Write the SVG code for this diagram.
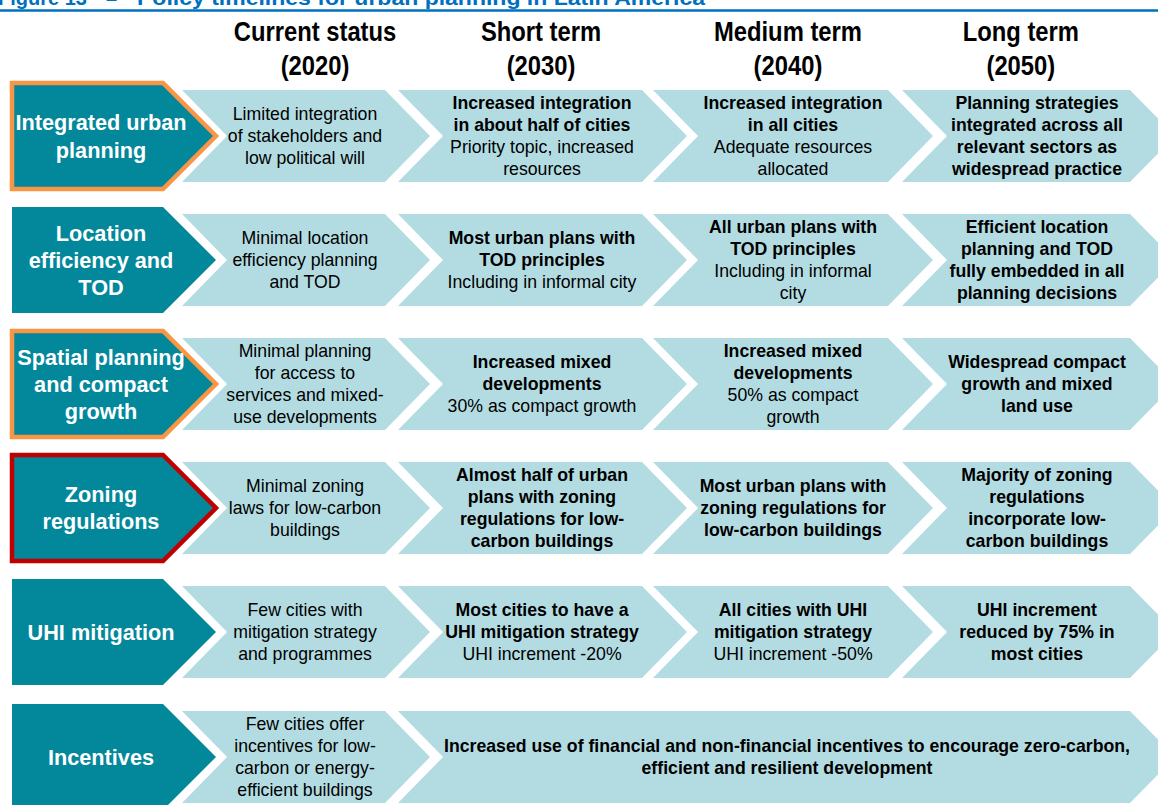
<svg xmlns="http://www.w3.org/2000/svg" width="1158" height="805" viewBox="0 0 1158 805">
<style>
.bg{fill:#ffffff}
.dark{fill:#03879B}
.halo{fill:none;stroke:#ffffff;stroke-width:9;stroke-linejoin:miter}
.orange{fill:#03879B;stroke:#F79646;stroke-width:4.5;stroke-linejoin:miter}
.red{fill:#03879B;stroke:#C00000;stroke-width:4.5;stroke-linejoin:miter}
.light{fill:#B3DCE2}
text{font-family:"Liberation Sans",Arial,sans-serif;text-anchor:middle}
.lab{fill:#ffffff;font-weight:bold;font-size:21.7px}
.t{fill:#000000;font-size:17.7px}
.tb{fill:#000000;font-size:17.7px;font-weight:bold}
.hd{fill:#000000;font-size:28px;font-weight:bold}
.title{fill:#0070C0;font-size:20px;font-weight:bold;text-anchor:start}
</style>
<defs>
<polygon id="pent" points="12,-53 163,-53 216,0 163,53 12,53"/>
<polygon id="ch1" points="182,-46 385,-46 430,0 385,46 182,46 227,0"/>
<polygon id="ch2" points="398,-46 642,-46 687,0 642,46 398,46 443,0"/>
<polygon id="ch3" points="653,-46 888,-46 933,0 888,46 653,46 698,0"/>
<polygon id="ch4" points="902,-46 1130,-46 1175,0 1130,46 902,46 947,0"/>
<polygon id="chL" points="398,-46 1130,-46 1175,0 1130,46 398,46 443,0"/>
</defs>
<rect class="bg" x="0" y="0" width="1158" height="805"/>

<g id="title">
<text class="title" x="-2" y="5">Figure 13</text>
<text class="title" x="106" y="5">–</text>
<text class="title" x="137" y="5" textLength="568" lengthAdjust="spacingAndGlyphs">Policy timelines for urban planning in Latin America</text>
<line x1="0" y1="10.5" x2="1158" y2="10.5" stroke="#0070C0" stroke-width="2.5"/>
</g>

<g id="headers">
<g id="h-current"><text class="hd" transform="scale(0.85 1)"><tspan x="370.6" y="41">Current status</tspan><tspan x="370.6" y="75">(2020)</tspan></text></g>
<g id="h-short"><text class="hd" transform="scale(0.85 1)"><tspan x="636.5" y="41">Short term</tspan><tspan x="636.5" y="75">(2030)</tspan></text></g>
<g id="h-medium"><text class="hd" transform="scale(0.85 1)"><tspan x="927" y="41">Medium term</tspan><tspan x="927" y="75">(2040)</tspan></text></g>
<g id="h-long"><text class="hd" transform="scale(0.85 1)"><tspan x="1201" y="41">Long term</tspan><tspan x="1201" y="75">(2050)</tspan></text></g>
</g>

<!-- Row 1 c=136 -->
<g id="row1" transform="translate(0 136)">
<g id="r1c4"><use href="#ch4" class="light"/><text class="tb"><tspan x="1037" y="-27">Planning strategies</tspan><tspan x="1037" y="-5">integrated across all</tspan><tspan x="1037" y="17">relevant sectors as</tspan><tspan x="1037" y="39">widespread practice</tspan></text></g>
<g id="r1c3"><use href="#ch3" class="light"/><text class="tb"><tspan x="793" y="-27">Increased integration</tspan><tspan x="793" y="-5">in all cities</tspan></text><text class="t"><tspan x="793" y="17">Adequate resources</tspan><tspan x="793" y="39">allocated</tspan></text></g>
<g id="r1c2"><use href="#ch2" class="light"/><text class="tb"><tspan x="542" y="-27">Increased integration</tspan><tspan x="542" y="-5">in about half of cities</tspan></text><text class="t"><tspan x="542" y="17">Priority topic, increased</tspan><tspan x="542" y="39">resources</tspan></text></g>
<g id="r1c1"><use href="#ch1" class="light"/><text class="t"><tspan x="305" y="-16">Limited integration</tspan><tspan x="305" y="6">of stakeholders and</tspan><tspan x="305" y="28">low political will</tspan></text></g>
<g id="r1label"><use href="#pent" class="halo"/><use href="#pent" class="orange"/><text class="lab"><tspan x="101" y="-6">Integrated urban</tspan><tspan x="101" y="22">planning</tspan></text></g>
</g>

<!-- Row 2 c=260 -->
<g id="row2" transform="translate(0 260)">
<g id="r2c4"><use href="#ch4" class="light"/><text class="tb"><tspan x="1037" y="-27">Efficient location</tspan><tspan x="1037" y="-5">planning and TOD</tspan><tspan x="1037" y="17">fully embedded in all</tspan><tspan x="1037" y="39">planning decisions</tspan></text></g>
<g id="r2c3"><use href="#ch3" class="light"/><text class="tb"><tspan x="793" y="-27">All urban plans with</tspan><tspan x="793" y="-5">TOD principles</tspan></text><text class="t"><tspan x="793" y="17">Including in informal</tspan><tspan x="793" y="39">city</tspan></text></g>
<g id="r2c2"><use href="#ch2" class="light"/><text class="tb"><tspan x="542" y="-16">Most urban plans with</tspan><tspan x="542" y="6">TOD principles</tspan></text><text class="t"><tspan x="542" y="28">Including in informal city</tspan></text></g>
<g id="r2c1"><use href="#ch1" class="light"/><text class="t"><tspan x="305" y="-16">Minimal location</tspan><tspan x="305" y="6">efficiency planning</tspan><tspan x="305" y="28">and TOD</tspan></text></g>
<g id="r2label"><use href="#pent" class="halo"/><use href="#pent" class="dark"/><text class="lab"><tspan x="101" y="-19">Location</tspan><tspan x="101" y="8">efficiency and</tspan><tspan x="101" y="35">TOD</tspan></text></g>
</g>

<!-- Row 3 c=384 -->
<g id="row3" transform="translate(0 384)">
<g id="r3c4"><use href="#ch4" class="light"/><text class="tb"><tspan x="1037" y="-16">Widespread compact</tspan><tspan x="1037" y="6">growth and mixed</tspan><tspan x="1037" y="28">land use</tspan></text></g>
<g id="r3c3"><use href="#ch3" class="light"/><text class="tb"><tspan x="793" y="-27">Increased mixed</tspan><tspan x="793" y="-5">developments</tspan></text><text class="t"><tspan x="793" y="17">50% as compact</tspan><tspan x="793" y="39">growth</tspan></text></g>
<g id="r3c2"><use href="#ch2" class="light"/><text class="tb"><tspan x="542" y="-16">Increased mixed</tspan><tspan x="542" y="6">developments</tspan></text><text class="t"><tspan x="542" y="28">30% as compact growth</tspan></text></g>
<g id="r3c1"><use href="#ch1" class="light"/><text class="t"><tspan x="305" y="-27">Minimal planning</tspan><tspan x="305" y="-5">for access to</tspan><tspan x="305" y="17">services and mixed-</tspan><tspan x="305" y="39">use developments</tspan></text></g>
<g id="r3label"><use href="#pent" class="halo"/><use href="#pent" class="orange"/><text class="lab"><tspan x="101" y="-19">Spatial planning</tspan><tspan x="101" y="8">and compact</tspan><tspan x="101" y="35">growth</tspan></text></g>
</g>

<!-- Row 4 c=508 -->
<g id="row4" transform="translate(0 508)">
<g id="r4c4"><use href="#ch4" class="light"/><text class="tb"><tspan x="1037" y="-27">Majority of zoning</tspan><tspan x="1037" y="-5">regulations</tspan><tspan x="1037" y="17">incorporate low-</tspan><tspan x="1037" y="39">carbon buildings</tspan></text></g>
<g id="r4c3"><use href="#ch3" class="light"/><text class="tb"><tspan x="793" y="-16">Most urban plans with</tspan><tspan x="793" y="6">zoning regulations for</tspan><tspan x="793" y="28">low-carbon buildings</tspan></text></g>
<g id="r4c2"><use href="#ch2" class="light"/><text class="tb"><tspan x="542" y="-27">Almost half of urban</tspan><tspan x="542" y="-5">plans with zoning</tspan><tspan x="542" y="17">regulations for low-</tspan><tspan x="542" y="39">carbon buildings</tspan></text></g>
<g id="r4c1"><use href="#ch1" class="light"/><text class="t"><tspan x="305" y="-16">Minimal zoning</tspan><tspan x="305" y="6">laws for low-carbon</tspan><tspan x="305" y="28">buildings</tspan></text></g>
<g id="r4label"><use href="#pent" class="halo"/><use href="#pent" class="red"/><text class="lab"><tspan x="101" y="-6">Zoning</tspan><tspan x="101" y="21">regulations</tspan></text></g>
</g>

<!-- Row 5 c=632 -->
<g id="row5" transform="translate(0 632)">
<g id="r5c4"><use href="#ch4" class="light"/><text class="tb"><tspan x="1037" y="-16">UHI increment</tspan><tspan x="1037" y="6">reduced by 75% in</tspan><tspan x="1037" y="28">most cities</tspan></text></g>
<g id="r5c3"><use href="#ch3" class="light"/><text class="tb"><tspan x="793" y="-16">All cities with UHI</tspan><tspan x="793" y="6">mitigation strategy</tspan></text><text class="t"><tspan x="793" y="28">UHI increment -50%</tspan></text></g>
<g id="r5c2"><use href="#ch2" class="light"/><text class="tb"><tspan x="542" y="-16">Most cities to have a</tspan><tspan x="542" y="6">UHI mitigation strategy</tspan></text><text class="t"><tspan x="542" y="28">UHI increment -20%</tspan></text></g>
<g id="r5c1"><use href="#ch1" class="light"/><text class="t"><tspan x="305" y="-16">Few cities with</tspan><tspan x="305" y="6">mitigation strategy</tspan><tspan x="305" y="28">and programmes</tspan></text></g>
<g id="r5label"><use href="#pent" class="halo"/><use href="#pent" class="dark"/><text class="lab"><tspan x="101" y="8">UHI mitigation</tspan></text></g>
</g>

<!-- Row 6 c=757 -->
<g id="row6" transform="translate(0 757)">
<g id="r6long"><use href="#chL" class="light"/><text class="tb"><tspan x="787" y="-5">Increased use of financial and non-financial incentives to encourage zero-carbon,</tspan><tspan x="787" y="17">efficient and resilient development</tspan></text></g>
<g id="r6c1"><use href="#ch1" class="light"/><text class="t"><tspan x="305" y="-27">Few cities offer</tspan><tspan x="305" y="-5">incentives for low-</tspan><tspan x="305" y="17">carbon or energy-</tspan><tspan x="305" y="39">efficient buildings</tspan></text></g>
<g id="r6label"><use href="#pent" class="halo"/><use href="#pent" class="dark"/><text class="lab"><tspan x="101" y="8">Incentives</tspan></text></g>
</g>
</svg>
